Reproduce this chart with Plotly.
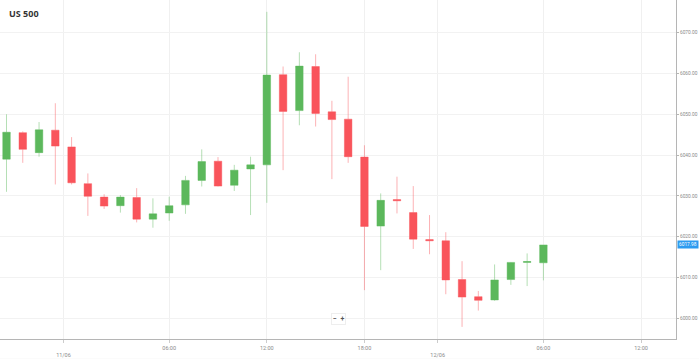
import plotly.graph_objects as go

# Hourly candles, US 500 (10/06 20:00 -> 12/06 06:00, 23:00 break on 11/06)
times = ["10/06 20:00", "10/06 21:00", "10/06 22:00", "10/06 23:00",
         "11/06 00:00", "11/06 01:00", "11/06 02:00", "11/06 03:00", "11/06 04:00",
         "11/06 05:00", "11/06 06:00", "11/06 07:00", "11/06 08:00", "11/06 09:00",
         "11/06 10:00", "11/06 11:00", "11/06 12:00", "11/06 13:00", "11/06 14:00",
         "11/06 15:00", "11/06 16:00", "11/06 17:00", "11/06 18:00", "11/06 19:00",
         "11/06 20:00", "11/06 21:00", "11/06 22:00",
         "12/06 00:00", "12/06 01:00", "12/06 02:00", "12/06 03:00", "12/06 04:00",
         "12/06 05:00", "12/06 06:00"]
opens = [6039.0, 6045.5, 6040.6, 6046.1, 6042.0, 6033.0, 6029.7, 6027.6, 6029.6,
         6024.3, 6025.8, 6027.8, 6033.8, 6038.5, 6032.6, 6036.6, 6037.6, 6059.7,
         6050.9, 6061.7, 6050.6, 6048.8, 6039.5, 6022.6, 6029.1, 6025.9, 6019.3,
         6019.0, 6009.5, 6005.3, 6004.5, 6009.5, 6013.7, 6013.6]
highs = [6050.0, 6045.8, 6048.1, 6052.7, 6044.4, 6035.5, 6030.4, 6030.2, 6031.9,
         6029.4, 6029.8, 6034.9, 6041.4, 6039.5, 6037.6, 6039.6, 6075.1, 6061.7,
         6065.2, 6064.7, 6053.3, 6059.2, 6042.4, 6030.6, 6034.7, 6032.4, 6025.3,
         6021.1, 6014.0, 6006.7, 6013.2, 6013.8, 6015.9, 6017.98]
lows = [6031.0, 6038.1, 6039.6, 6032.8, 6032.8, 6025.1, 6026.8, 6025.9, 6023.5,
        6022.2, 6023.9, 6025.6, 6032.3, 6032.3, 6031.2, 6025.3, 6028.3, 6036.3,
        6047.3, 6047.0, 6034.1, 6038.1, 6006.9, 6011.8, 6025.7, 6017.0, 6015.7,
        6005.9, 5997.9, 6001.9, 6004.3, 6008.2, 6007.9, 6009.3]
closes = [6045.6, 6041.4, 6046.2, 6042.2, 6033.2, 6029.9, 6027.5, 6029.7, 6024.3,
          6025.6, 6027.6, 6033.8, 6038.4, 6032.4, 6036.3, 6037.6, 6059.6, 6050.7,
          6061.8, 6050.2, 6048.7, 6039.6, 6022.5, 6028.9, 6028.8, 6019.4, 6019.0,
          6009.4, 6005.2, 6004.4, 6009.4, 6013.7, 6013.9, 6017.98]
last_price = 6017.98

y_ticks = [6000, 6010, 6020, 6030, 6040, 6050, 6060, 6070]
x_tick_pos = [3.5, 10, 16, 22, 26.5, 33, 39]
x_tick_text = ["<br>11/06", "06:00", "12:00", "18:00", "<br>12/06", "06:00", "12:00"]

idx = list(range(len(times)))

GREEN = "#5cb85c"
RED = "#f9545b"

fig = go.Figure()
fig.add_trace(go.Candlestick(
    x=idx, open=opens, high=highs, low=lows, close=closes,
    text=times, hoverinfo="skip",
    increasing=dict(line=dict(color="rgba(92,184,92,0.45)", width=1), fillcolor=GREEN),
    decreasing=dict(line=dict(color="rgba(249,84,91,0.45)", width=1), fillcolor=RED),
    whiskerwidth=0, showlegend=False,
))

fig.add_hline(y=last_price, line=dict(color="#8ccaf7", width=1))

fig.update_layout(
    width=699, height=359,
    margin=dict(l=0, r=23, t=0, b=20, autoexpand=False),
    paper_bgcolor="white", plot_bgcolor="white",
    boxgap=0.34, hovermode=False,
    font=dict(family="Roboto, Arial, sans-serif", size=6, color="#8a8a8a"),
    xaxis=dict(
        range=[-0.4, 41.15], rangeslider=dict(visible=False), automargin=False,
        tickmode="array", tickvals=x_tick_pos, ticktext=x_tick_text,
        showgrid=True, gridcolor="#f0f0f0", gridwidth=1,
        showline=True, linecolor="#b5b5b5", linewidth=1,
        ticks="outside", ticklen=3, tickcolor="#cccccc",
        tickfont=dict(size=5.5, color="#8a8a8a"), zeroline=False,
    ),
    yaxis=dict(
        side="right", range=[5994.93, 6078.0], automargin=False,
        tickmode="array", tickvals=y_ticks,
        ticktext=[f"{v:.2f}" for v in y_ticks],
        showgrid=True, gridcolor="#f2f2f2", gridwidth=1,
        showline=True, linecolor="#b5b5b5", linewidth=1,
        ticks="outside", ticklen=2, tickcolor="#b5b5b5",
        tickfont=dict(size=4.8, color="#8a8a8a"), zeroline=False,
        ticklabelstandoff=0,
    ),
    shapes=[dict(type="rect", xref="paper", yref="paper", x0=0, x1=1.04,
                 y0=-0.065, y1=-0.058, fillcolor="#ededed", line=dict(width=0),
                 layer="below")],
    annotations=[
        dict(text="<b>US 500</b>", xref="paper", yref="paper", x=0.011, y=0.985,
             xanchor="left", yanchor="top", showarrow=False,
             font=dict(family="Open Sans, Arial, sans-serif", size=9, color="#333333")),
        dict(text=f"{last_price:.2f}", xref="paper", yref="y", x=1.002, y=last_price,
             xanchor="left", yanchor="middle", showarrow=False,
             bgcolor="#2d9bf0", borderpad=1,
             font=dict(size=4.8, color="white")),
        dict(text="<b>−</b>  <b>+</b>", xref="paper", yref="paper", x=0.5, y=0.06,
             xanchor="center", yanchor="middle", showarrow=False,
             bgcolor="white", bordercolor="#eeeeee", borderwidth=1, borderpad=1,
             font=dict(size=7, color="#555555")),
    ],
)

fig.write_html("out.html", config={"displayModeBar": False, "staticPlot": True},
               post_script="document.body.style.margin='0px';")
